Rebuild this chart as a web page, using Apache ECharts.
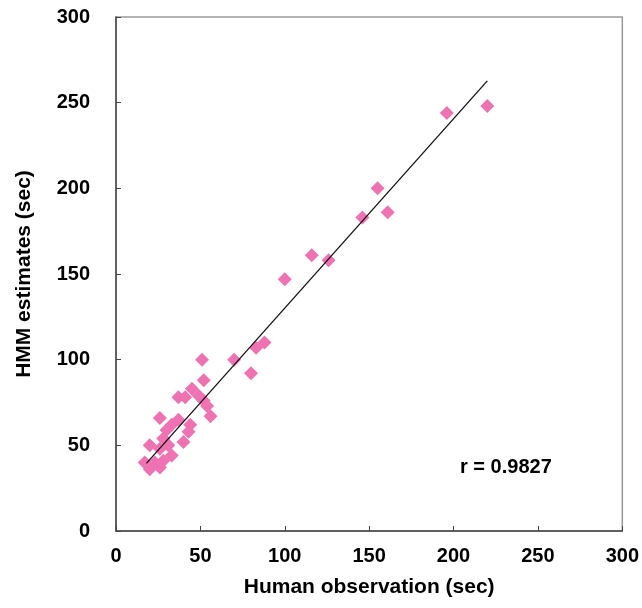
<!DOCTYPE html>
<html>
<head>
<meta charset="utf-8">
<script src="https://cdn.jsdelivr.net/npm/echarts@6/dist/echarts.min.js"></script>
<style>html,body{margin:0;padding:0;background:#fff}#c{width:642px;height:608px}</style>
</head>
<body>
<div id="c"></div>
<script>
const obsX = [220,196,155,146,161,116,126,100,88,83,70,80,51,52,45,37,41,49,52,54,56,26,37,33,30,44,43,40,20,28,26,33,17,23,20,26,28,31];
const hmmY = [248,244,200,183,186,161,158,147,110,107,100,92,100,88,83,78,78,79,76,73,67,66,65,62,59,62,58,52,50,54,48,44,40,40,36,37,41,50];
const trendX = [18, 220];
const trendY = [39.5, 262.7];
const ticks = [0,50,100,150,200,250,300];
const rText = 'r = 0.9827';

const pts = obsX.map((x,i)=>[x,hmmY[i]]);
const line = trendX.map((x,i)=>[x,trendY[i]]);
const font = 'Liberation Sans, Arial, sans-serif';
const chart = echarts.init(document.getElementById('c'));
chart.setOption({
  animation:false,
  grid:{left:116,right:14,top:17,bottom:77,show:true,borderColor:'#9a9a9a',borderWidth:1.5,containLabel:false},
  xAxis:{type:'value',min:ticks[0],max:ticks[ticks.length-1],interval:50,
    name:'Human observation (sec)',nameLocation:'middle',nameGap:46,
    nameTextStyle:{fontFamily:font,fontWeight:'bold',fontSize:21,color:'#000'},
    axisLine:{show:true,lineStyle:{color:'#444',width:1.5}},
    axisTick:{show:true,inside:true,length:5,lineStyle:{color:'#444'}},
    axisLabel:{margin:15,fontFamily:font,fontWeight:'bold',fontSize:20,color:'#000',showMaxLabel:true},
    splitLine:{show:false}},
  yAxis:{type:'value',min:ticks[0],max:ticks[ticks.length-1],interval:50,
    name:'HMM estimates (sec)',nameLocation:'middle',nameGap:81,nameRotate:90,
    nameTextStyle:{fontFamily:font,fontWeight:'bold',fontSize:21,color:'#000'},
    axisLine:{show:true,lineStyle:{color:'#444',width:1.5}},
    axisTick:{show:true,inside:true,length:5,lineStyle:{color:'#444'}},
    axisLabel:{margin:26,fontFamily:font,fontWeight:'bold',fontSize:20,color:'#000'},
    splitLine:{show:false}},
  series:[
    {type:'line',data:line,symbol:'none',lineStyle:{color:'#111',width:1.3},z:3},
    {type:'scatter',data:pts,symbol:'diamond',symbolSize:14,itemStyle:{color:'#EF72B2',opacity:1},z:2}
  ],
  graphic:[{type:'text',left:460,top:457,style:{text:rText,font:'bold 20px '+font,fill:'#000'}}]
});
</script>
</body>
</html>
